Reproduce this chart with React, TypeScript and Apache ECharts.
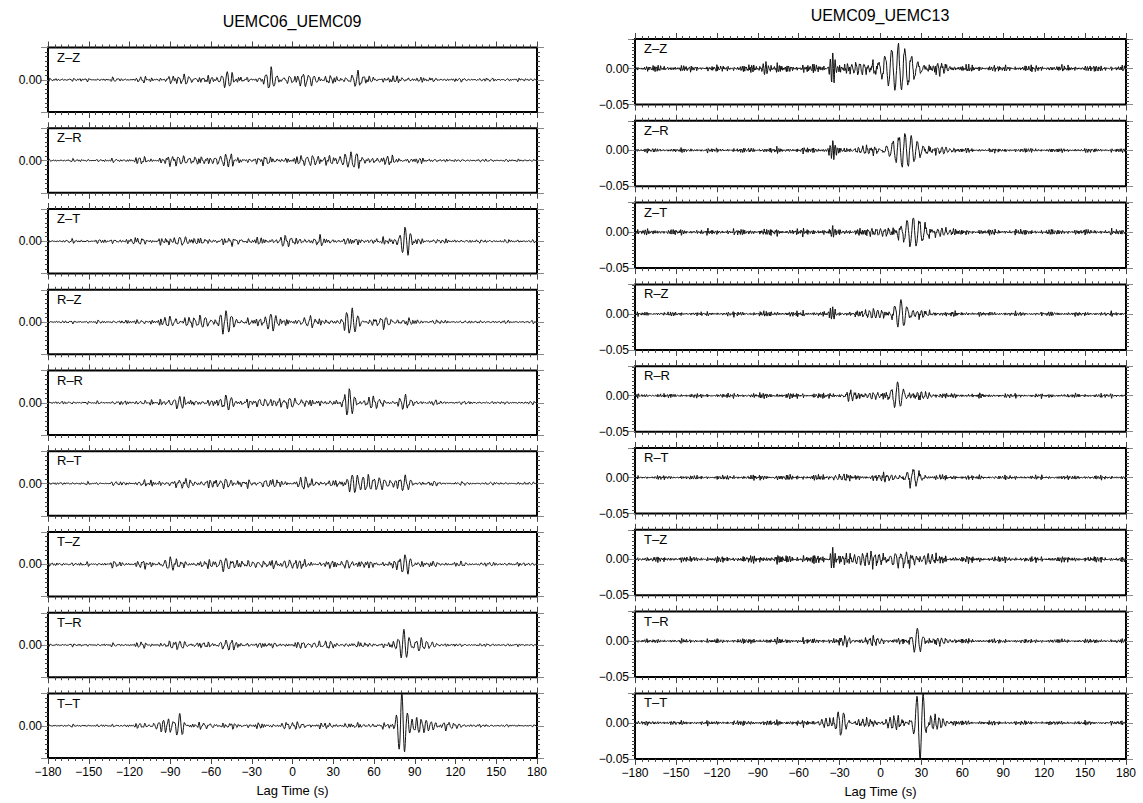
import React, { useEffect, useRef } from "react";
import * as echarts from "echarts";

// ---------- data ----------
const leftTitle = "UEMC06_UEMC09";
const rightTitle = "UEMC09_UEMC13";
const componentLabels = ["Z–Z", "Z–R", "Z–T", "R–Z", "R–R", "R–T", "T–Z", "T–R", "T–T"];
const xTickValues = [-180, -150, -120, -90, -60, -30, 0, 30, 60, 90, 120, 150, 180];
const xAxisTitle = "Lag Time (s)";
const leftYRange = [-1, 1];
const rightYRange = [-0.05, 0.041];

// wave packets: [centre lag (s), amplitude, period (s), half-width (s)]
const leftZZ = [[-48, 0.25, 4, 4], [-15.5, 0.38, 4, 3.5], [12, 0.15, 4, 6], [48, 0.2, 4, 4], [-80, 0.1, 4, 8], [-2, 0.12, 4, 4]];
const leftZR = [[-49, 0.18, 4, 6], [-20, 0.12, 4, 5], [15, 0.15, 4, 5], [43, 0.22, 4, 6], [70, 0.1, 4, 6], [-80, 0.1, 4, 6]];
const leftZT = [[83, 0.42, 4, 3], [-83, 0.15, 4, 4], [-5, 0.15, 4, 4], [-42, 0.1, 4, 4], [-115, 0.08, 4, 5], [20, 0.08, 4, 5]];
const leftRZ = [[-49, 0.33, 4, 4], [-16, 0.25, 4, 3.5], [44, 0.38, 4, 4], [-68, 0.18, 4, 7], [69, 0.15, 4, 4], [13, 0.15, 4, 4], [-90, 0.1, 4, 5]];
const leftRR = [[42, 0.4, 4, 3.5], [83, 0.26, 4, 3.5], [-49, 0.22, 4, 4], [-83, 0.15, 4, 4], [-2, 0.15, 4, 5], [-20, 0.12, 4, 5], [60, 0.1, 4, 5]];
const leftRT = [[44, 0.26, 4, 4], [60, 0.2, 4, 8], [-79, 0.16, 4, 4], [-49, 0.15, 4, 4], [83, 0.2, 4, 3], [-20, 0.1, 4, 5], [10, 0.1, 4, 5]];
const leftTZ = [[83, 0.28, 4, 3.5], [-49, 0.2, 4, 4], [-90, 0.13, 4, 5], [-2, 0.13, 4, 4], [40, 0.1, 4, 5], [-25, 0.1, 4, 5]];
const leftTR = [[82, 0.47, 4, 3], [95, 0.15, 4, 6], [-49, 0.13, 4, 4], [-83, 0.1, 4, 4], [20, 0.08, 4, 6]];
const leftTT = [[80.5, 1.0, 4.2, 2.6], [95, 0.22, 3.5, 7], [-83, 0.38, 4, 2.5], [-95, 0.15, 3.5, 6], [-65, 0.1, 4, 5], [115, 0.1, 4, 6], [0, 0.08, 4, 8]];

const rightZZ = [[13, 0.031, 4.8, 9], [-35, 0.024, 1.8, 1.5], [-84, 0.008, 2, 2], [-15, 0.008, 3, 6], [45, 0.007, 3, 4]];
const rightZR = [[18, 0.023, 4.5, 8], [-35, 0.012, 1.8, 2], [-10, 0.005, 3, 6], [45, 0.005, 3, 5]];
const rightZT = [[24, 0.02, 4.5, 7], [-35, 0.006, 1.8, 2], [0, 0.005, 3, 6], [45, 0.005, 3, 5]];
const rightRZ = [[15, 0.02, 4.5, 4], [-35, 0.012, 1.8, 1.5], [-5, 0.006, 3, 7], [30, 0.005, 3, 5]];
const rightRR = [[12.5, 0.019, 4.5, 3.5], [-22, 0.007, 3, 3], [-5, 0.004, 3, 5], [30, 0.005, 3, 5]];
const rightRT = [[24, 0.012, 4.5, 4], [5, 0.004, 3, 6], [-30, 0.003, 3, 5]];
const rightTZ = [[-35, 0.016, 1.8, 1.5], [-10, 0.008, 3, 10], [15, 0.009, 4, 8], [35, 0.006, 3, 5]];
const rightTR = [[27, 0.018, 4.5, 3], [-26, 0.006, 3, 3], [-5, 0.004, 3, 6], [45, 0.004, 3, 5]];
const rightTT = [[29, -0.05, 4.8, 3], [-29, -0.018, 4, 3], [-40, 0.006, 3, 4], [40, 0.01, 3, 5], [10, 0.008, 3, 5], [-10, 0.005, 3, 5]];

// background level: [outside window, inside window, window start (s), window end (s)]
const leftNoise = [
  [0.06, 0.12, -110, 100], [0.05, 0.13, -120, 100], [0.06, 0.12, -130, 110],
  [0.05, 0.12, -120, 100], [0.05, 0.12, -120, 100], [0.05, 0.12, -120, 100],
  [0.07, 0.12, -130, 110], [0.05, 0.1, -120, 110], [0.04, 0.1, -120, 130],
];
const rightNoise = [
  [0.0045, 0.006, -100, 60], [0.003, 0.004, -100, 60], [0.004, 0.005, -100, 60],
  [0.003, 0.004, -100, 60], [0.003, 0.004, -100, 60], [0.003, 0.004, -100, 60],
  [0.004, 0.006, -100, 60], [0.003, 0.004, -100, 60], [0.003, 0.004, -100, 60],
];

const leftPackets = [leftZZ, leftZR, leftZT, leftRZ, leftRR, leftRT, leftTZ, leftTR, leftTT];
const rightPackets = [rightZZ, rightZR, rightZT, rightRZ, rightRR, rightRT, rightTZ, rightTR, rightTT];

// ---------- build traces from the packets ----------
function buildTrace(packets: number[][], noise: number[], idx: number, fast: boolean) {
  const [outL, inL, w0, w1] = noise;
  const periods = fast ? [0.9, 1.17, 1.43, 1.71, 2.07, 2.6] : [1.6, 2.2, 2.9, 3.5, 4.1, 5.2];
  const weights = [1, 0.9, 0.8, 0.7, 0.6, 0.5];
  const out: number[][] = [];
  for (let k = 0; k <= 1440; k++) {
    const t = -180 + k * 0.25;
    let v = 0;
    for (const [t0, a, p, s] of packets) {
      const d = (t - t0) / s;
      if (Math.abs(d) < 5) v += a * Math.exp(-0.5 * d * d) * Math.cos((2 * Math.PI * (t - t0)) / p);
    }
    const win = 1 / (1 + Math.exp(-(t - w0) / 8)) * (1 / (1 + Math.exp((t - w1) / 8)));
    const lvl = outL + (inL - outL) * win;
    let n = 0;
    for (let j = 0; j < periods.length; j++) {
      n += weights[j] * Math.sin((2 * Math.PI * t) / periods[j] + idx * 1.7 + j * 2.3);
    }
    const mod = 0.7 + 0.3 * Math.sin((2 * Math.PI * t) / 23 + idx);
    v += (lvl * n * mod) / 2.5;
    out.push([t, v]);
  }
  return out;
}

const FONT = "'Liberation Sans', Arial, Helvetica, sans-serif";
const minus = (v: number) => (v < 0 ? "−" + String(-v) : String(v));

export default function App() {
  const ref = useRef<HTMLDivElement>(null);
  useEffect(() => {
    if (!ref.current) return;
    const chart = echarts.init(ref.current, undefined, { renderer: "svg" });
    const grids: any[] = [];
    const xAxes: any[] = [];
    const yAxes: any[] = [];
    const series: any[] = [];
    const graphics: any[] = [];
    const tickStyle = { color: "#444", width: 1 };

    for (let col = 0; col < 2; col++) {
      for (let r = 0; r < 9; r++) {
        const gi = grids.length;
        const left = col === 0 ? 48 : 635;
        const width = col === 0 ? 489 : 491;
        const top = col === 0 ? 47.5 + r * 80.75 : 39 + r * 81.8;
        const height = col === 0 ? 64.5 : 65.5;
        const yr = col === 0 ? leftYRange : rightYRange;
        const last = r === 8;
        grids.push({ left, top, width, height, show: true, borderColor: "#000", borderWidth: 2, backgroundColor: "transparent" });
        const baseX = {
          gridIndex: gi, type: "value", min: xTickValues[0], max: xTickValues[xTickValues.length - 1], interval: 30,
          axisLine: { show: false, onZero: false }, splitLine: { show: false },
          axisTick: { show: true, length: 6, lineStyle: tickStyle },
          minorTick: { show: true, splitNumber: 6, length: 3, lineStyle: tickStyle },
        };
        xAxes.push({
          ...baseX, position: "bottom",
          axisLabel: { show: last, formatter: (v: number) => minus(v), fontSize: 12, color: "#000", fontFamily: FONT, margin: 8 },
          name: last ? xAxisTitle : "", nameLocation: "middle", nameGap: 26,
          nameTextStyle: { fontSize: 13, color: "#000", fontFamily: FONT },
        });
        xAxes.push({ ...baseX, position: "top", axisLabel: { show: false } });
        const baseY = {
          gridIndex: gi, type: "value", min: yr[0], max: yr[1], interval: col === 0 ? 1 : 0.05,
          axisLine: { show: false, onZero: false }, splitLine: { show: false },
          axisTick: { show: true, length: 7, lineStyle: { color: "#888", width: 1 } },
          minorTick: { show: true, splitNumber: col === 0 ? 7 : 10, length: 3, lineStyle: tickStyle },
        };
        yAxes.push({
          ...baseY, position: "left",
          axisLabel: {
            show: true, fontSize: 12, color: "#000", fontFamily: FONT, margin: 6,
            formatter: (v: number) => {
              if (Math.abs(v) < 1e-9) return "0.00";
              if (col === 1 && Math.abs(v + 0.05) < 1e-9) return "−0.05";
              return "";
            },
          },
        });
        yAxes.push({ ...baseY, position: "right", axisLabel: { show: false } });
        const packets = col === 0 ? leftPackets[r] : rightPackets[r];
        const noise = col === 0 ? leftNoise[r] : rightNoise[r];
        series.push({
          type: "line", xAxisIndex: 2 * gi, yAxisIndex: 2 * gi, data: buildTrace(packets, noise, gi, col === 1),
          showSymbol: false, symbol: "none", clip: true, silent: true,
          lineStyle: { color: "#111", width: 1 },
        });
        graphics.push({
          type: "text", left: left + 9, top: top + 3,
          style: { text: componentLabels[r], fontSize: 13, fill: "#000", fontFamily: FONT },
        });
      }
    }
    graphics.push({ type: "text", x: 292, y: 21, style: { text: leftTitle, fontSize: 16, fill: "#000", fontFamily: FONT, align: "center", verticalAlign: "middle" } });
    graphics.push({ type: "text", x: 880, y: 15, style: { text: rightTitle, fontSize: 16, fill: "#000", fontFamily: FONT, align: "center", verticalAlign: "middle" } });

    chart.setOption({
      animation: false,
      backgroundColor: "#fff",
      textStyle: { fontFamily: FONT },
      grid: grids, xAxis: xAxes, yAxis: yAxes, series, graphic: graphics,
    });
    return () => chart.dispose();
  }, []);
  return <div ref={ref} style={{ position: "fixed", left: 0, top: 0, width: 1143, height: 803 }} />;
}
